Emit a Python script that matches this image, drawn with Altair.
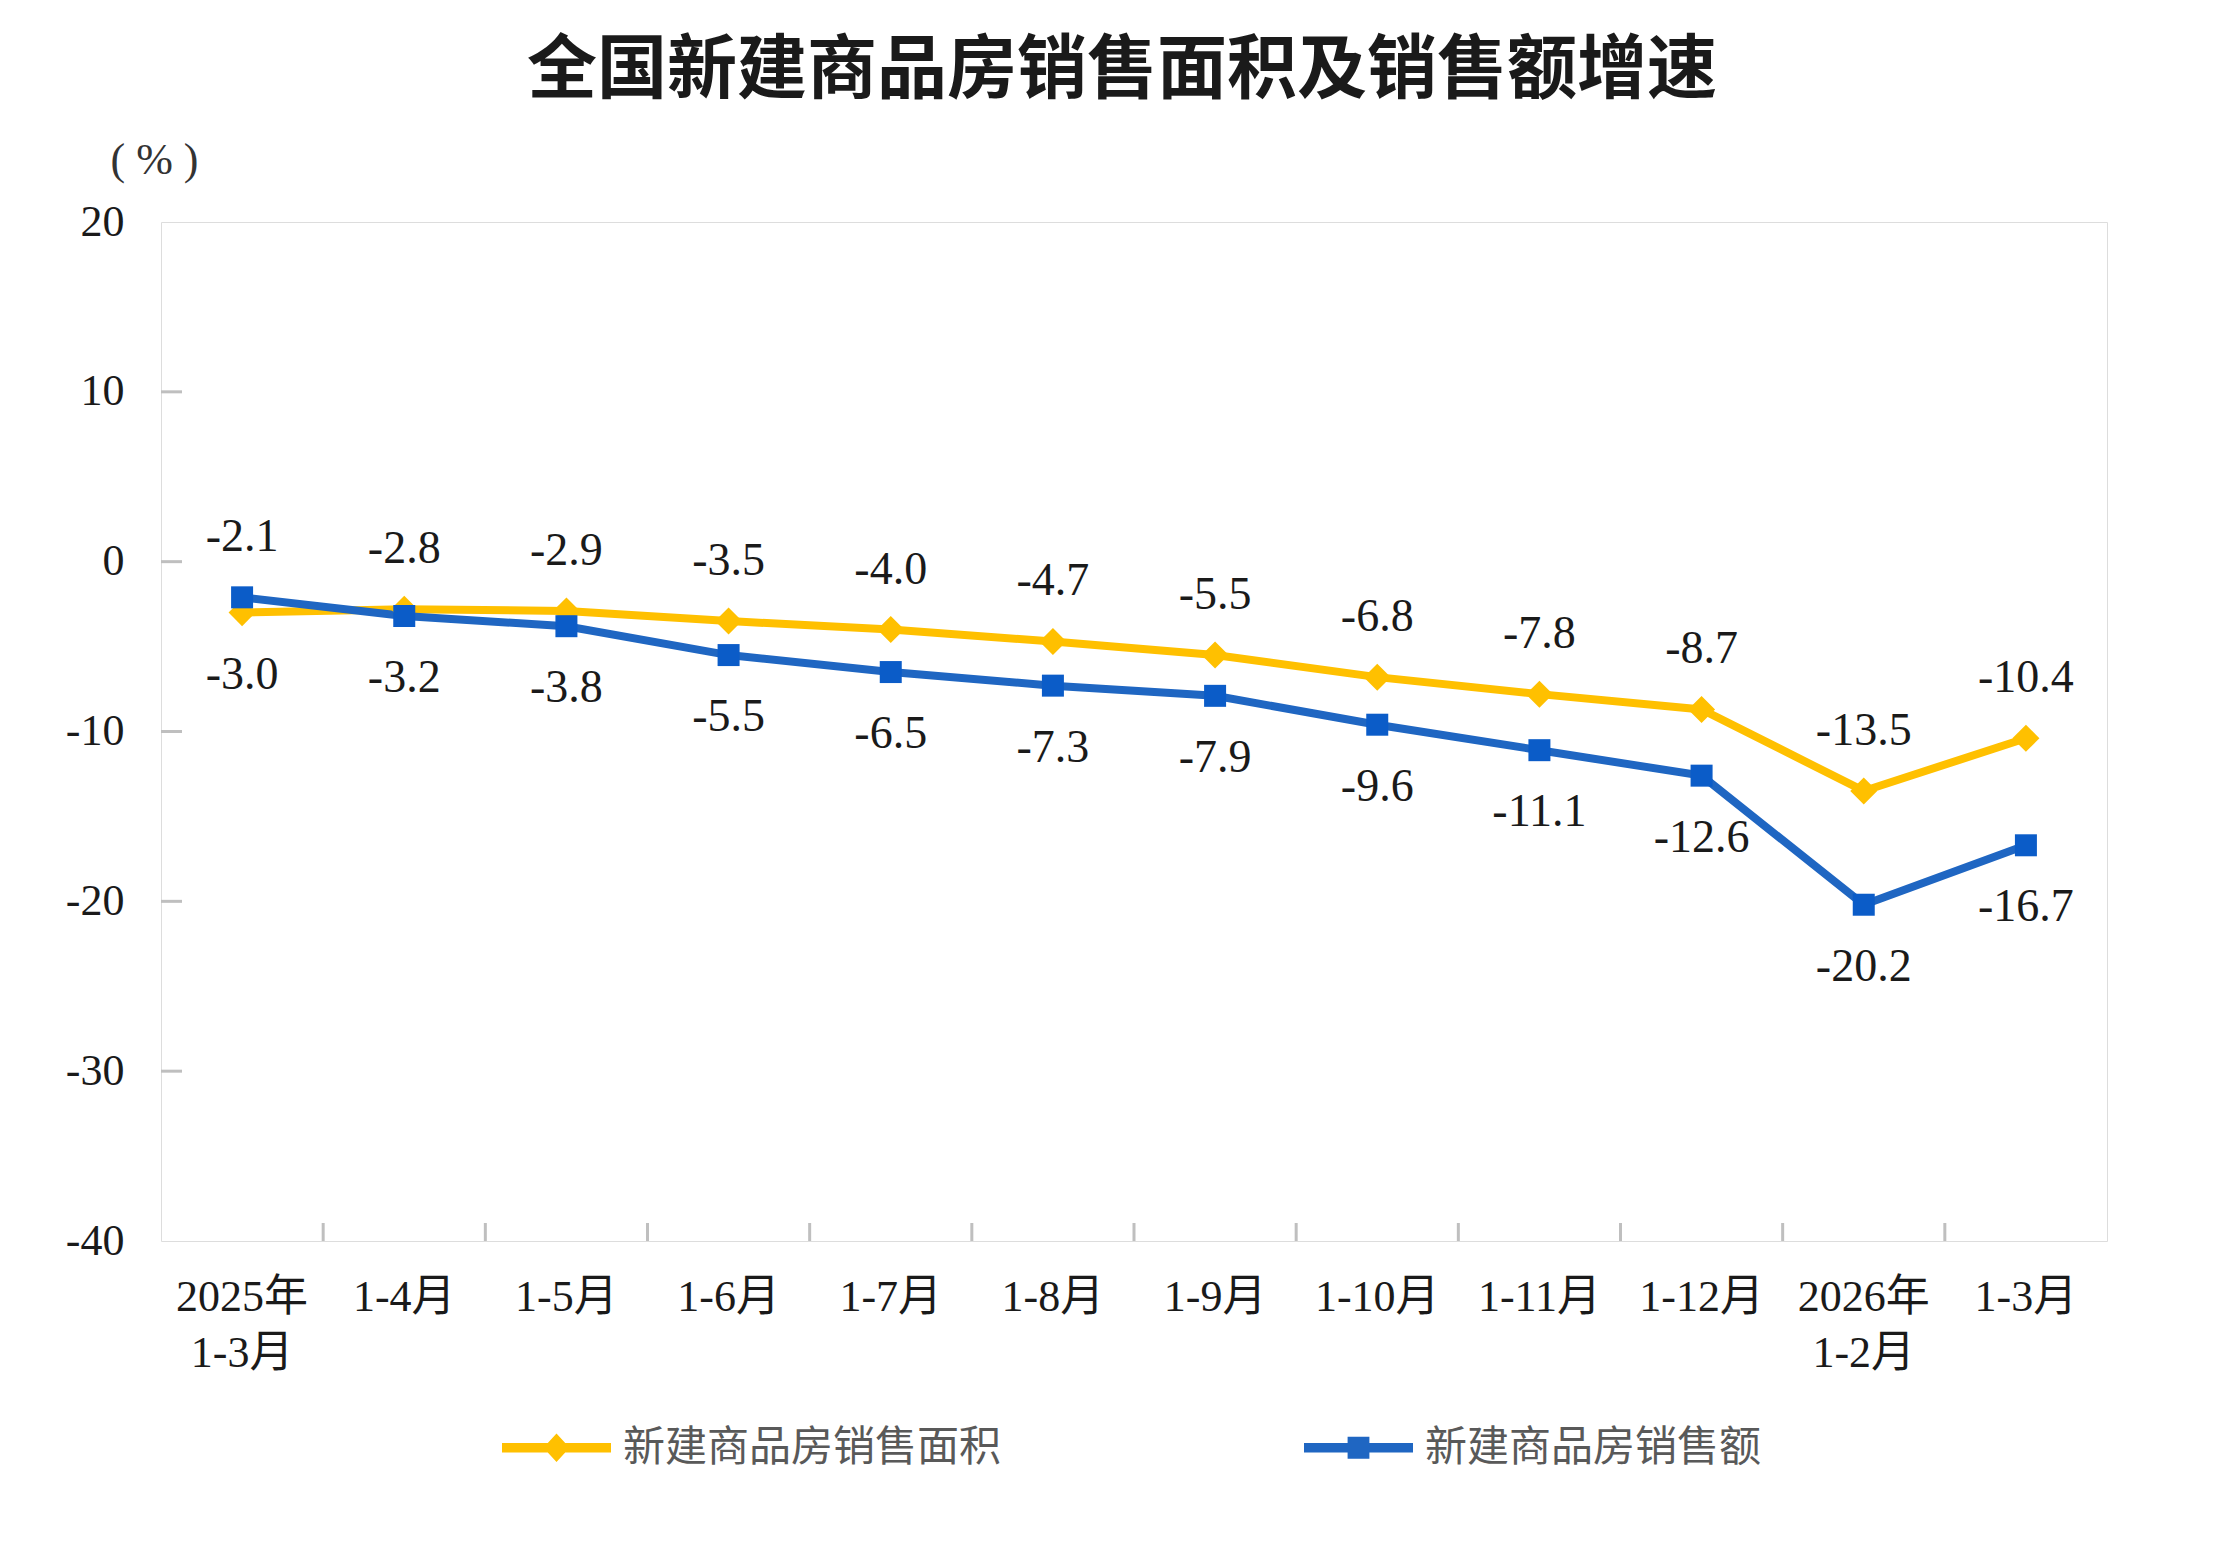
import altair as alt
import pandas as pd

months = ["2025年\n1-3月", "1-4月", "1-5月", "1-6月", "1-7月", "1-8月", "1-9月",
          "1-10月", "1-11月", "1-12月", "2026年\n1-2月", "1-3月"]
area = [-3.0, -2.8, -2.9, -3.5, -4.0, -4.7, -5.5, -6.8, -7.8, -8.7, -13.5, -10.4]
sales = [-2.1, -3.2, -3.8, -5.5, -6.5, -7.3, -7.9, -9.6, -11.1, -12.6, -20.2, -16.7]
series = ["新建商品房销售面积", "新建商品房销售额"]
colors = ["#FFC000", "#1F66C2"]
y_ticks = [20, 10, 0, -10, -20, -30, -40]

W, H = 1946, 1019
SERIF = "Liberation Serif, Noto Sans CJK SC"
CJK = "Noto Sans CJK SC"

rows = []
for i, m in enumerate(months):
    rows.append({"month": m, "series": series[0], "value": area[i]})
    rows.append({"month": m, "series": series[1], "value": sales[i]})
df = pd.DataFrame(rows)

xscale = alt.Scale(type="band", domain=months, paddingInner=0, paddingOuter=0)
yscale = alt.Scale(domain=[-40, 20], nice=False, zero=False)
cscale = alt.Scale(domain=series, range=colors)

x_enc = alt.X("month:N", scale=xscale, bandPosition=0.5, sort=None,
              axis=alt.Axis(title=None, ticks=False, tickSize=0, domain=False, grid=False,
                            bandPosition=0.5,
                            labelAngle=0, labelAlign="center", labelFont=SERIF, labelFontSize=44,
                            labelColor="#1a1a1a", labelPadding=34, labelBaseline="top",
                            labelLineHeight=56, labelExpr="split(datum.label, '\\n')"))
y_enc = alt.Y("value:Q", scale=yscale,
              axis=alt.Axis(values=y_ticks, ticks=False, tickSize=0, domain=False, grid=False,
                            labelFont=SERIF, labelFontSize=44, labelColor="#1a1a1a",
                            labelExpr="(datum.value < 0 ? '-' : '') + abs(datum.value)",
                            labelPadding=37, title="( % )", titleAngle=0, titleX=-51,
                            titleY=-62, titleAlign="left", titleBaseline="middle",
                            titleFont="Liberation Serif", titleFontSize=44, titleFontWeight="normal",
                            titleColor="#333333"))

base = alt.Chart(df)

# inward ticks
xt = alt.Chart(pd.DataFrame({"month": months[1:]})).mark_rule(color="#BFBFBF", strokeWidth=3).encode(
    x=alt.X("month:N", scale=xscale, bandPosition=0, sort=None),
    y=alt.value(H - 18), y2=alt.value(H))
yt = alt.Chart(pd.DataFrame({"t": y_ticks[1:-1]})).mark_rule(color="#BFBFBF", strokeWidth=3).encode(
    y=alt.Y("t:Q", scale=yscale), x=alt.value(0), x2=alt.value(21))

def line_for(i):
    return base.transform_filter(alt.datum.series == series[i]).mark_line(
        strokeWidth=8, color=colors[i]).encode(x=x_enc, y=y_enc)

line_a = line_for(0)
line_s = line_for(1)
pts_a = base.transform_filter(alt.datum.series == series[0]).mark_point(
    shape="diamond", filled=True, size=730, opacity=1, color=colors[0]).encode(x=x_enc, y=y_enc)
pts_s = base.transform_filter(alt.datum.series == series[1]).mark_point(
    shape="square", filled=True, size=484, opacity=1, color="#0B5CC8").encode(x=x_enc, y=y_enc)

lab = base.transform_joinaggregate(maxv="max(value)", groupby=["month"]).transform_calculate(
    txt="(datum.value < 0 ? '-' : '') + format(abs(datum.value), '.1f')")
lab_up = lab.transform_filter(alt.datum.value == alt.datum.maxv).mark_text(
    font=SERIF, fontSize=46, color="#1a1a1a", dy=-60, baseline="middle").encode(
    x=x_enc, y=y_enc, text="txt:N")
lab_dn = lab.transform_filter(alt.datum.value != alt.datum.maxv).mark_text(
    font=SERIF, fontSize=46, color="#1a1a1a", dy=62, baseline="middle").encode(
    x=x_enc, y=y_enc, text="txt:N")

path_d = "M-1,-0.085L1,-0.085L1,0.085L-1,0.085Z M0,-0.26L0.24,0L0,0.26L-0.24,0Z"
path_s = "M-1,-0.085L1,-0.085L1,0.085L-1,0.085Z M-0.2,-0.2L0.2,-0.2L0.2,0.2L-0.2,0.2Z"
leg = alt.Legend(orient="none", legendX=341, legendY=1171, direction="horizontal", title=None,
                 symbolSize=109 * 109, symbolStrokeWidth=0, symbolOpacity=1,
                 labelFont=CJK, labelFontSize=42, labelColor="#595959", labelOffset=12,
                 columnPadding=302, labelLimit=0)
legend_layer = alt.Chart(pd.DataFrame({"series": series, "value": [0, 0], "month": months[:2]})).mark_point(
    filled=True, opacity=0).encode(
    x=x_enc, y=y_enc,
    color=alt.Color("series:N", scale=cscale, legend=leg),
    shape=alt.Shape("series:N", scale=alt.Scale(domain=series, range=[path_d, path_s]), legend=leg))

chart = alt.layer(xt, yt, line_a, line_s, pts_a, pts_s, lab_up, lab_dn, legend_layer).properties(
    width=W, height=H,
    title=alt.TitleParams("全国新建商品房销售面积及销售额增速", font=CJK, fontSize=70,
                          fontWeight="bold", color="#1a1a1a", anchor="middle", offset=30, dx=-12),
    autosize=alt.AutoSizeParams(type="none"),
    padding={"left": 153, "top": 214, "right": 101, "bottom": 307},
).configure_view(stroke="#BFBFBF", strokeWidth=3).configure(background="white")

chart.save("out.html", embed_options={"renderer": "svg", "actions": False})
